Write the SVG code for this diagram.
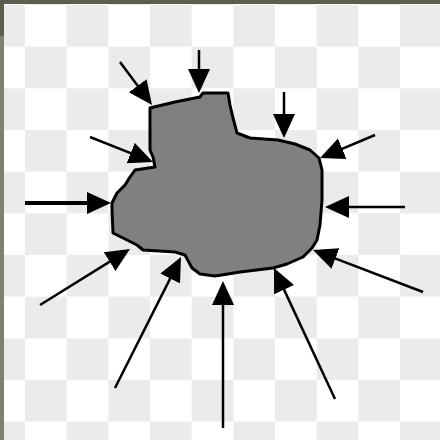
<svg xmlns="http://www.w3.org/2000/svg" width="440" height="440" viewBox="0 0 440 440">
  <defs>
    <pattern id="checker" patternUnits="userSpaceOnUse" x="25" y="5" width="83.33" height="83.33">
      <rect width="83.33" height="83.33" fill="#ffffff"/>
      <rect x="41.67" y="0" width="41.67" height="41.67" fill="#ebebeb"/>
      <rect x="0" y="41.67" width="41.67" height="41.67" fill="#ebebeb"/>
    </pattern>
    <marker id="head" markerUnits="userSpaceOnUse" markerWidth="26" markerHeight="24" refX="4" refY="11" orient="auto">
      <path d="M0,0 L24,11 L0,22 Z" fill="#000"/>
    </marker>
  </defs>
  <style>
    .arrow { stroke: #000; stroke-width: 2.5; fill: none; marker-end: url(#head); }
    .blob { fill: #808080; stroke: #000; stroke-width: 3; stroke-linejoin: round; }
  </style>
  <rect width="440" height="440" fill="url(#checker)"/>
  <rect x="0" y="0" width="440" height="4" fill="#5d5d4d"/>
  <rect x="0" y="0" width="4" height="440" fill="#808070"/>
  <rect x="0" y="0" width="4" height="36" fill="#5d5d4d"/>

  <g id="blob">
    <path class="blob" d="M150,108 L175,102 L200,97 L203,93 L228,93 L230,105 L233,118 L237,133 L250,138 L278,140 L295,144 L310,150 L319,158 L322,170 L322,200 L320,225 L317,240 L312,248 L303,257 L287,264 L273,268 L240,272 L228,274 L215,276 L200,274 L192,268 L185,255 L175,252 L143,250 L137,245 L113,233 L112,210 L112,203 L117,193 L125,185 L130,177 L135,170 L155,167 L153,157 L150,150 Z"/>
  </g>

  <g id="connectors">
    <line class="arrow" x1="120" y1="62" x2="140.1" y2="89"/>
    <line class="arrow" x1="199" y1="50" x2="199" y2="73"/>
    <line class="arrow" x1="284" y1="92" x2="284" y2="118"/>
    <line class="arrow" x1="375" y1="135" x2="338.5" y2="150.3"/>
    <line class="arrow" x1="405" y1="207" x2="345" y2="207"/>
    <line class="arrow" x1="423" y1="292" x2="331.7" y2="257.1"/>
    <line class="arrow" x1="335" y1="399" x2="282.4" y2="286.1"/>
    <line class="arrow" x1="223" y1="428" x2="223" y2="301"/>
    <line class="arrow" x1="115" y1="388" x2="172" y2="274.9"/>
    <line class="arrow" x1="40" y1="305" x2="113" y2="259.6"/>
    <line class="arrow" x1="25" y1="203" x2="91" y2="203" style="stroke-width:4"/>
    <line class="arrow" x1="90" y1="137" x2="134.4" y2="154.6"/>
  </g>
</svg>
